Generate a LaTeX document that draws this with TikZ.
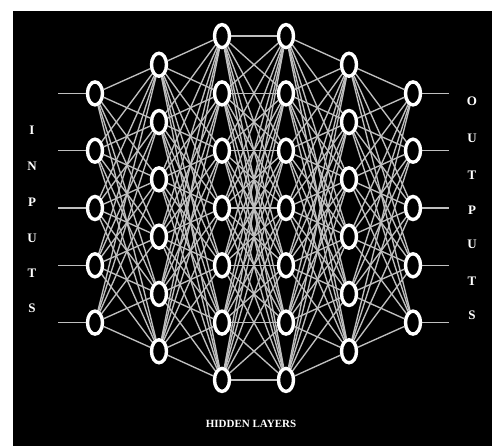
\documentclass[tikz,border=0pt]{standalone}
\usepackage{fontspec}
\setmainfont{Liberation Serif}
\usetikzlibrary{shapes.geometric}
\pgfdeclarelayer{back}
\pgfdeclarelayer{wires}
\pgfsetlayers{back,wires,main}
\begin{document}
\begin{tikzpicture}[x=1pt,y=-1pt,
  neuron/.style={ellipse,draw=white,line width=3.4pt,fill=black,minimum width=15pt,minimum height=23pt,inner sep=0pt},
  wire/.style={draw=white!75!black,line width=1.35pt},
  lbl/.style={text=white,font=\bfseries\fontsize{13}{13}\selectfont,inner sep=0pt},
  captionlbl/.style={text=white,font=\bfseries\fontsize{11}{11}\selectfont,inner sep=0pt}]
\useasboundingbox (0,0) rectangle (492,446);
\begin{pgfonlayer}{back}
\fill[white] (0,0) rectangle (492,446);
\fill[black] (13,11) rectangle (492,446);
\end{pgfonlayer}
% layers
\foreach \i in {1,...,5} \node[neuron] (a\i) at (95,{208+(\i-3)*57.3}) {};
\foreach \i in {1,...,6} \node[neuron] (b\i) at (159,{208+(\i-3.5)*57.3}) {};
\foreach \i in {1,...,7} \node[neuron] (c\i) at (222,{208+(\i-4)*57.3}) {};
\foreach \i in {1,...,7} \node[neuron] (d\i) at (286,{208+(\i-4)*57.3}) {};
\foreach \i in {1,...,6} \node[neuron] (e\i) at (349,{208+(\i-3.5)*57.3}) {};
\foreach \i in {1,...,5} \node[neuron] (f\i) at (413,{208+(\i-3)*57.3}) {};
\foreach \i in {1,...,5} {
  \coordinate (in\i) at (58,{208+(\i-3)*57.3});
  \coordinate (out\i) at (449,{208+(\i-3)*57.3});
}
\begin{pgfonlayer}{wires}
\foreach \i in {1,...,5} {
  \draw[wire] (in\i) -- (a\i);
  \draw[wire] (f\i) -- (out\i);
}
\foreach \i in {1,...,5} \foreach \j in {1,...,6} \draw[wire] (a\i) -- (b\j);
\foreach \i in {1,...,6} \foreach \j in {1,...,7} \draw[wire] (b\i) -- (c\j);
\foreach \i in {1,...,7} \foreach \j in {1,...,7} \draw[wire] (c\i) -- (d\j);
\foreach \i in {1,...,7} \foreach \j in {1,...,6} \draw[wire] (d\i) -- (e\j);
\foreach \i in {1,...,6} \foreach \j in {1,...,5} \draw[wire] (e\i) -- (f\j);
\end{pgfonlayer}
% labels
\foreach \t/\y [count=\k] in {I/130,N/166,P/202,U/238,T/273,S/308}
  \node[lbl] (inl\k) at (32,\y) {\t};
\foreach \t/\y [count=\k] in {O/101,U/138,T/175,P/210,U/244,T/281,S/315}
  \node[lbl] (outl\k) at (472,\y) {\t};
\node[captionlbl] (hidden) at (251,424) {HIDDEN LAYERS};
\end{tikzpicture}
\end{document}
